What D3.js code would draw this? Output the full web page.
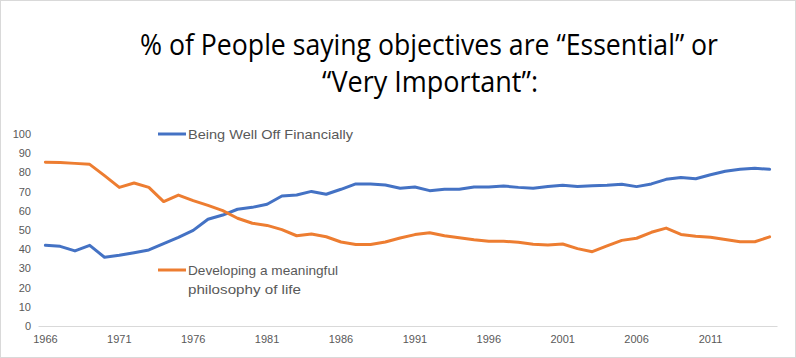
<!DOCTYPE html>
<html>
<head>
<meta charset="utf-8">
<script src="https://cdn.jsdelivr.net/npm/d3@7/dist/d3.min.js"></script>
<style>
html,body{margin:0;padding:0;background:#fff;}
svg{display:block;}
</style>
</head>
<body>
<svg id="chart" width="796" height="358"></svg>
<script>
const years = d3.range(1966, 2016);
const wellOff = [42.0,41.5,39.1,42.0,35.8,36.8,38.2,39.6,42.9,46.2,49.8,55.6,57.8,60.8,61.8,63.4,67.7,68.2,70.1,68.6,71.2,74.0,74.0,73.4,71.7,72.4,70.5,71.2,71.2,72.4,72.4,72.9,72.2,71.7,72.7,73.3,72.6,73.1,73.3,73.8,72.6,74.0,76.4,77.4,76.7,78.8,80.6,81.6,82.1,81.6];
const philosophy = [85.3,85.2,84.7,84.2,78.3,72.2,74.5,72.2,64.8,68.2,65.3,62.8,60.1,56.1,53.5,52.4,50.2,47.0,47.9,46.5,43.75,42.5,42.5,43.75,45.8,47.6,48.6,47.0,46.0,44.95,44.1,44.1,43.6,42.6,42.2,42.7,40.3,38.7,41.7,44.6,45.7,48.8,51.0,47.7,46.7,46.2,45.0,43.9,43.9,46.4];
const yTicks = [0,10,20,30,40,50,60,70,80,90,100];
const xTickYears = [1966,1971,1976,1981,1986,1991,1996,2001,2006,2011];
const titleLines = ["% of People saying objectives are \u201cEssential\u201d or", "\u201cVery Important\u201d:"];
const seriesNames = ["Being Well Off Financially", ["Developing a meaningful", "philosophy of life"]];
const colors = ["#4472C4", "#ED7D31"];

const svg = d3.select("#chart");
const W = 796, H = 358;

svg.append("rect").attr("x",0.5).attr("y",0.5).attr("width",W-1).attr("height",H-1)
  .attr("fill","#fff").attr("stroke","#d9d9d9");

// Title
const tl = [{t:titleLines[0], x:140, y:55, w:578},{t:titleLines[1], x:322, y:92, w:216}];
svg.selectAll("text.title").data(tl).join("text").attr("class","title")
  .attr("x",d=>d.x).attr("y",d=>d.y).text(d=>d.t)
  .attr("font-family","'Open Sans', sans-serif").attr("font-size",28.5)
  .attr("fill","#000").attr("textLength",d=>d.w).attr("lengthAdjust","spacingAndGlyphs");

const x = d3.scaleBand().domain(years).range([38, 777]);
const cx = yr => x(yr) + x.bandwidth()/2;
const y = d3.scaleLinear().domain([0,100]).range([326, 134]);

// X axis
const xAxis = svg.append("g").attr("transform","translate(0,326)")
  .call(d3.axisBottom(x).tickValues(xTickYears).tickSize(0).tickSizeOuter(0).tickPadding(9));
xAxis.select(".domain").attr("stroke","#d9d9d9").attr("stroke-width",1);
xAxis.selectAll("text").attr("font-family","'Liberation Sans', Arial, sans-serif").attr("font-size",11).attr("fill","#595959");

// Y axis
const yAxis = svg.append("g").attr("transform","translate(31,0)")
  .call(d3.axisLeft(y).tickValues(yTicks).tickSize(0).tickPadding(0));
yAxis.select(".domain").remove();
yAxis.selectAll("text").attr("font-family","'Liberation Sans', Arial, sans-serif").attr("font-size",11).attr("fill","#595959");

// Lines
const line = d3.line().x((d,i)=>cx(years[i])).y(d=>y(d));
[wellOff, philosophy].forEach((s,k)=>{
  svg.append("path").datum(s).attr("d",line).attr("fill","none")
    .attr("stroke",colors[k]).attr("stroke-width",3).attr("stroke-linejoin","round").attr("stroke-linecap","round");
});

// Legend labels
const leg = [{y:134, lines:[seriesNames[0]], c:colors[0], w:[165]},
             {y:270, lines:seriesNames[1], c:colors[1], w:[150,113]}];
leg.forEach(l=>{
  svg.append("line").attr("x1",158).attr("x2",186).attr("y1",l.y).attr("y2",l.y)
    .attr("stroke",l.c).attr("stroke-width",3);
  l.lines.forEach((t,j)=>{
    svg.append("text").attr("x",188).attr("y",l.y + j*19).attr("dy","0.35em").text(t)
      .attr("font-family","'Liberation Sans', Arial, sans-serif").attr("font-size",13.5)
      .attr("fill","#595959").attr("textLength",l.w[j]).attr("lengthAdjust","spacingAndGlyphs");
  });
});
</script>
</body>
</html>
